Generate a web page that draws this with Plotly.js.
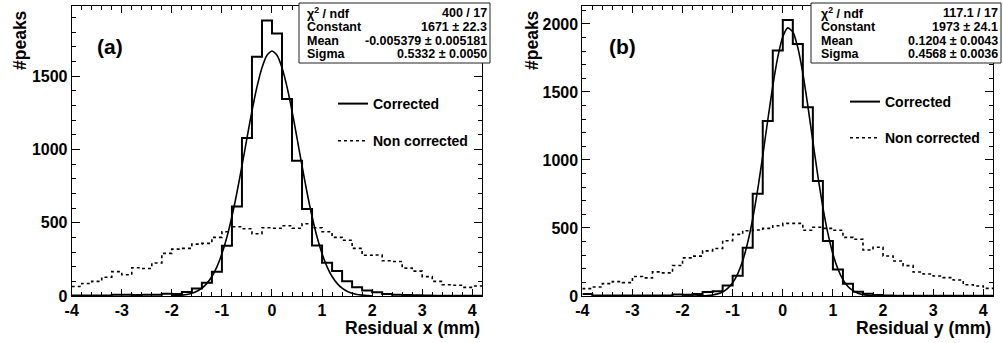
<!DOCTYPE html>
<html>
<head>
<meta charset="utf-8">
<script src="https://cdn.plot.ly/plotly-3.0.1.min.js"></script>
<style>html,body{margin:0;padding:0;background:#fff;}#chart{width:1003px;height:343px;}</style>
</head>
<body>
<div id="chart"></div>
<script>
// bin low edges (bin width 0.2), last entry is the upper edge of the last bin
const binEdges = [-4.0,-3.8,-3.6,-3.4,-3.2,-3.0,-2.8,-2.6,-2.4,-2.2,-2.0,-1.8,-1.6,-1.4,-1.2,-1.0,-0.8,-0.6,-0.4,-0.2,
  0.0,0.2,0.4,0.6,0.8,1.0,1.2,1.4,1.6,1.8,2.0,2.2,2.4,2.6,2.8,3.0,3.2,3.4,3.6,3.8,4.0,4.2];

// Panel (a): Residual x
const corrX = [3,3,4,4,9,8,7,8,9,15,14,27,52,90,166,342,610,1077,1631,1879,
  1790,1344,923,593,345,227,170,100,60,38,25,14,9,7,5,3,2,2,1,1,1];
const nonCorrX = [65,85,100,128,166,145,193,188,225,291,320,325,354,359,400,438,472,459,425,466,
  462,479,462,493,466,438,400,380,325,278,280,240,235,190,170,132,100,77,73,59,68];

// Panel (b): Residual y
const corrY = [15,3,3,3,3,3,3,3,4,11,9,15,30,35,77,148,355,752,1287,1804,
  2029,1853,1387,845,405,194,90,31,16,7,3,2,2,1,1,1,1,1,1,1,1];
const nonCorrY = [54,66,91,106,98,143,133,177,170,224,280,293,332,349,406,453,480,485,497,517,
  534,534,483,505,497,483,431,417,338,358,294,257,223,176,162,147,135,118,83,74,56];

const fitXs = [-2.0,-1.9,-1.8,-1.7,-1.6,-1.5,-1.4,-1.3,-1.2,-1.1,-1.0,-0.9,-0.8,-0.7,-0.6,-0.5,-0.4,-0.3,-0.2,-0.1,
  0.0,0.1,0.2,0.3,0.4,0.5,0.6,0.7,0.8,0.9,1.0,1.1,1.2,1.3,1.4,1.5,1.6,1.7,1.8,1.9,2.0];
const fitA = [1.5,3,6,10,19,32,53,86,133,199,288,402,542,706,887,1077,1261,1426,1557,1642,
  1671,1642,1557,1426,1261,1077,887,706,542,402,288,199,133,86,53,32,19,10,6,3,1.5];
const fitB = [0,0.1,0.3,0.7,1.6,3.6,7.7,15.7,30,56,97,163,259,393,569,784,1031,1292,1543,1756,
  1906,1971,1943,1826,1636,1397,1137,882,652,460,309,198,121,70,39,21,10,5,2.3,1.0,0.4];

// Tick labels
const xTickVals = [-4,-3,-2,-1,0,1,2,3,4];
const xTickText = ["-4","-3","-2","-1","0","1","2","3","4"];
const yTickValsA = [0,500,1000,1500];
const yTickTextA = ["0","500","1000","1500"];
const yTickValsB = [0,500,1000,1500,2000];
const yTickTextB = ["0","500","1000","1500","2000"];

// Stats box texts
const statLabels = ["χ<sup>2</sup> / ndf", "Constant", "Mean", "Sigma"];
const statsA = ["400 / 17", "1671 ± 22.3", "-0.005379 ± 0.005181", "0.5332 ± 0.0050"];
const statsB = ["117.1 / 17", "1973 ± 24.1", "0.1204 ± 0.0043", "0.4568 ± 0.0036"];
const legendNames = ["Corrected", "Non corrected"];
const xTitles = ["Residual x (mm)", "Residual y (mm)"];
const yTitle = "#peaks";
const panelLabels = ["(a)", "(b)"];

const W = 1003, H = 343;
const px = v => v / W;
const py = v => 1 - v / H;
const FONT = "Liberation Sans, Arial, Helvetica, sans-serif";
const bold = s => '<b>' + s + '</b>';

function stepY(vals) { return vals.concat([vals[vals.length - 1]]); }

const traces = [];
function addPanel(corr, nonc, fit, xa, ya, leg) {
  traces.push({x: binEdges, y: stepY(corr), type: 'scatter', mode: 'lines', xaxis: xa, yaxis: ya,
    line: {shape: 'hv', color: '#000', width: 2}, name: bold(legendNames[0]), legend: leg, legendgroup: leg + 'c', hoverinfo: 'skip'});
  traces.push({x: binEdges, y: stepY(nonc), type: 'scatter', mode: 'lines', xaxis: xa, yaxis: ya,
    line: {shape: 'hv', color: '#000', width: 1.6, dash: '3px,3px'}, name: bold(legendNames[1]), legend: leg, legendgroup: leg + 'n', hoverinfo: 'skip'});
  traces.push({x: fitXs, y: fit, type: 'scatter', mode: 'lines', xaxis: xa, yaxis: ya,
    line: {shape: 'spline', smoothing: 0.6, color: '#000', width: 1.6}, showlegend: false, hoverinfo: 'skip'});
}
addPanel(corrX, nonCorrX, fitA, 'x', 'y', 'legend');
addPanel(corrY, nonCorrY, fitB, 'x2', 'y2', 'legend2');

const tickFont = {family: FONT, size: 16, weight: 700, color: '#000'};
function xAxis(dom, anchor) {
  return {domain: dom, anchor: anchor, range: [-4, 4.2], tickmode: 'array', tickvals: xTickVals, ticktext: xTickText.map(bold),
    ticks: 'inside', ticklen: 7, tickwidth: 1,
    tickcolor: '#000', showline: true, linecolor: '#000', linewidth: 1, mirror: 'allticks', showgrid: false, zeroline: false,
    tickfont: tickFont, minor: {dtick: 0.2, tick0: 0, ticks: 'inside', ticklen: 4, tickcolor: '#000', showgrid: false}, fixedrange: true};
}
function yAxis(rng, anchor, vals, text) {
  return {domain: [py(296), py(6)], anchor: anchor, range: rng, tickmode: 'array', tickvals: vals, ticktext: text.map(bold),
    ticks: 'inside', ticklen: 8, tickwidth: 1,
    tickcolor: '#000', showline: true, linecolor: '#000', linewidth: 1, mirror: 'allticks', showgrid: false, zeroline: false,
    tickfont: tickFont, minor: {dtick: 100, tick0: 0, ticks: 'inside', ticklen: 4, tickcolor: '#000', showgrid: false}, fixedrange: true};
}

const shapes = [];
const annotations = [];
const rowsY = [13, 27, 41, 54];
const statFont = {family: FONT, size: 12.5, weight: 700, color: '#000'};
function statsBox(x0, x1, labelX, valueX, vals) {
  shapes.push({type: 'rect', xref: 'paper', yref: 'paper', x0: px(x0), x1: px(x1), y0: py(63), y1: py(3),
    fillcolor: '#fff', line: {color: '#222', width: 1}, layer: 'above'});
  for (let i = 0; i < statLabels.length; i++) {
    annotations.push({xref: 'paper', yref: 'paper', x: px(labelX), y: py(rowsY[i]), xanchor: 'left', yanchor: 'middle',
      text: bold(statLabels[i]), showarrow: false, font: statFont});
    annotations.push({xref: 'paper', yref: 'paper', x: px(valueX), y: py(rowsY[i]), xanchor: 'right', yanchor: 'middle',
      text: bold(vals[i]), showarrow: false, font: statFont});
  }
}
statsBox(299, 490, 305, 489, statsA);
statsBox(811, 1001, 819, 1000, statsB);

const titleFont = {family: FONT, size: 17.5, weight: 700, color: '#000'};
[[482, 'x'], [993, 'y']].forEach((p, i) => {
  annotations.push({xref: 'paper', yref: 'paper', x: px(p[0]), y: py(328), xanchor: 'right', yanchor: 'middle',
    text: bold(xTitles[i]), showarrow: false, font: titleFont});
});
[20, 532].forEach(xc => {
  annotations.push({xref: 'paper', yref: 'paper', x: px(xc), y: py(8), xanchor: 'center', yanchor: 'top',
    text: bold(yTitle), textangle: -90, showarrow: false, font: titleFont});
});
[[110, 47], [622, 47]].forEach((p, i) => {
  annotations.push({xref: 'paper', yref: 'paper', x: px(p[0]), y: py(p[1]), xanchor: 'center', yanchor: 'middle',
    text: bold(panelLabels[i]), showarrow: false, font: {family: FONT, size: 21, weight: 700, color: '#000'}});
});

const legFont = {family: FONT, size: 14, weight: 700, color: '#000'};
const layout = {
  width: W, height: H, autosize: false,
  margin: {l: 0, r: 0, t: 0, b: 0, pad: 0},
  paper_bgcolor: '#fff', plot_bgcolor: '#fff',
  xaxis: xAxis([px(71.7), px(482.3)], 'y'),
  yaxis: yAxis([0, 1978], 'x', yTickValsA, yTickTextA),
  xaxis2: xAxis([px(582.3), px(993.3)], 'y2'),
  yaxis2: yAxis([0, 2132], 'x2', yTickValsB, yTickTextB),
  legend: {x: px(333), y: py(88), xanchor: 'left', yanchor: 'top', font: legFont, bgcolor: 'rgba(0,0,0,0)',
    borderwidth: 0, tracegroupgap: 16, traceorder: 'grouped', itemwidth: 30},
  legend2: {x: px(845), y: py(86), xanchor: 'left', yanchor: 'top', font: legFont, bgcolor: 'rgba(0,0,0,0)',
    borderwidth: 0, tracegroupgap: 15, traceorder: 'grouped', itemwidth: 30},
  shapes: shapes,
  annotations: annotations,
  showlegend: true
};

Plotly.newPlot('chart', traces, layout, {staticPlot: true, displayModeBar: false});
</script>
</body>
</html>
